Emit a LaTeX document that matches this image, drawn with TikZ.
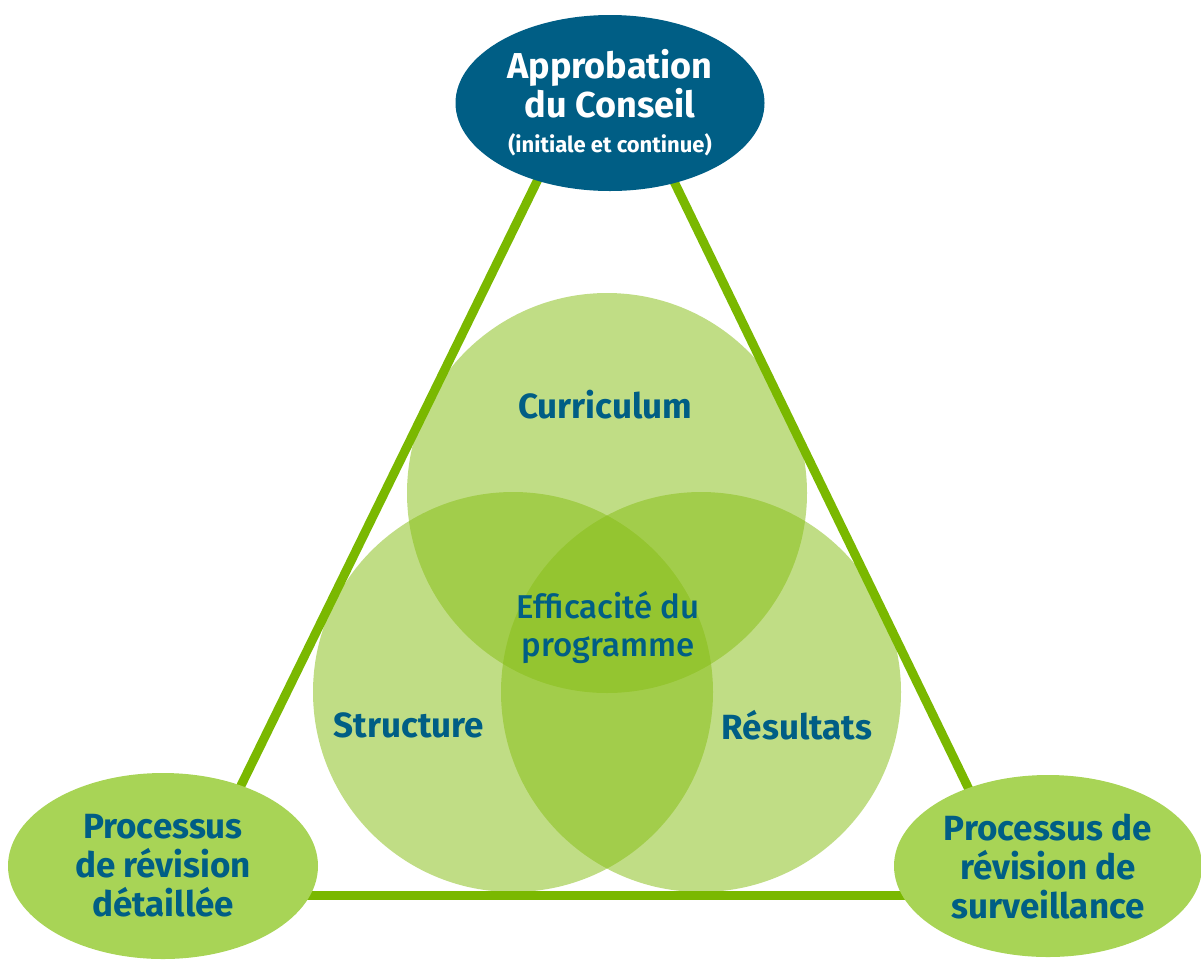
\documentclass[tikz,border=0pt]{standalone}
\usepackage{fontspec}
\setmainfont{Fira Sans}
\newfontfamily\medfont{Fira Sans Medium}
\usetikzlibrary{shapes.geometric}
\definecolor{navy}{RGB}{0,94,133}
\definecolor{trigreen}{RGB}{122,184,0}
\definecolor{ovalgreen}{RGB}{168,212,86}
\definecolor{circgreen}{RGB}{135,190,22}
\begin{document}
\begin{tikzpicture}[x=1pt,y=-1pt,
  oval/.style={ellipse, inner sep=0pt, align=center},
  venn/.style={circle, minimum size=400pt, inner sep=0pt, fill=circgreen, fill opacity=0.52},
  edge/.style={draw=trigreen, line width=9pt},
  biglbl/.style={text=navy, font=\fontsize{35}{39}\selectfont\bfseries, align=center, inner sep=0pt},
  midlbl/.style={text=navy, font=\fontsize{33}{38}\selectfont\medfont, align=center, inner sep=0pt}]
\useasboundingbox (0,0) rectangle (1201,959);
% Venn circles
\node[venn] (cur) at (607,493) {};
\node[venn] (str) at (513,692) {};
\node[venn] (res) at (701,692) {};
\node[biglbl] (curl) at (605,405) {Curriculum};
\node[biglbl] (strl) at (409,725) {Structure};
\node[biglbl] (resl) at (797,725) {Résultats};
\node[midlbl] (effl) at (608,628) {Efficacité du\\programme};
% triangle edges
\coordinate (t1) at (545,165);
\coordinate (t2) at (230,808);
\coordinate (t3) at (666,165);
\coordinate (t4) at (978,808);
\coordinate (t5) at (300,895);
\coordinate (t6) at (910,895);
\draw[edge] (t1) -- (t2);
\draw[edge] (t3) -- (t4);
\draw[edge] (t5) -- (t6);
% ovals
\node[oval, fill=navy, minimum width=309pt, minimum height=176pt, text=white,
      font=\fontsize{36}{39}\selectfont\bfseries] (top) at (610,103)
  {Approbation\\du Conseil\\[-4pt]{\fontsize{22}{24}\selectfont (initiale et continue)}};
\node[oval, fill=ovalgreen, minimum width=310pt, minimum height=186pt, text=navy, font=\fontsize{35}{39}\selectfont\bfseries] (bl) at (163,866)
  {Processus\\de révision\\détaillée};
\node[oval, fill=ovalgreen, minimum width=308pt, minimum height=182pt, text=navy, font=\fontsize{35}{39}\selectfont\bfseries] (br) at (1048,866)
  {Processus de\\révision de\\surveillance};
\end{tikzpicture}
\end{document}
